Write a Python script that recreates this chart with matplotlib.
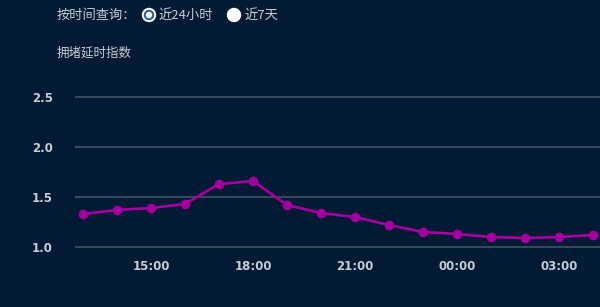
import matplotlib
matplotlib.use('Agg')
import matplotlib.pyplot as plt
from matplotlib.patches import Circle

plt.rcParams['font.family'] = ['Noto Sans CJK SC', 'DejaVu Sans']

# Data
hours = ['13:00', '14:00', '15:00', '16:00', '17:00', '18:00', '19:00', '20:00',
         '21:00', '22:00', '23:00', '00:00', '01:00', '02:00', '03:00', '04:00']
index = [1.33, 1.37, 1.39, 1.43, 1.63, 1.66, 1.42, 1.34,
         1.30, 1.22, 1.15, 1.13, 1.10, 1.09, 1.10, 1.12]
tick_hours = ['15:00', '18:00', '21:00', '00:00', '03:00']
y_ticks = [1.0, 1.5, 2.0, 2.5]

bg = '#021a33'
txt = '#c8ccd2'

fig = plt.figure(figsize=(6, 3.07), dpi=100)
fig.patch.set_facecolor(bg)

ax = fig.add_axes([0.125, 0.1889, 0.875, 0.5016])
ax.set_facecolor(bg)
x = list(range(len(hours)))
ax.plot(x, index, '-o', color='#a3009f', lw=2.0, markersize=6, zorder=3, clip_on=False)
ax.set_xlim(-0.235, 15.206)
ax.set_ylim(0.98, 2.52)
ax.set_yticks(y_ticks)
ax.set_yticklabels(['%.1f' % v for v in y_ticks], family='DejaVu Sans', weight='bold')
ax.set_xticks([hours.index(h) for h in tick_hours])
ax.set_xticklabels(tick_hours, family='DejaVu Sans', weight='bold')
ax.grid(axis='y', color='#36485c', lw=1.5)
ax.grid(axis='x', visible=False)
for s in ax.spines.values():
    s.set_visible(False)
ax.tick_params(axis='both', length=0, colors=txt, labelsize=8.5)
ax.tick_params(axis='y', pad=16)
ax.tick_params(axis='x', pad=8)

# Header
fig.text(57 / 600, 1 - 15 / 307, '按时间查询：', color=txt, fontsize=9.5, va='center', ha='left')
fig.text(158 / 600, 1 - 15 / 307, '近24小时', color=txt, fontsize=9.5, va='center', ha='left')
fig.text(244 / 600, 1 - 15 / 307, '近7天', color=txt, fontsize=9.5, va='center', ha='left')
fig.text(57 / 600, 1 - 53 / 307, '拥堵延时指数', color=txt, fontsize=9, va='center', ha='left')

tr = fig.dpi_scale_trans
fig.patches.append(Circle((1.49, (307 - 15) / 100), 0.065, transform=tr, color='white'))
fig.patches.append(Circle((1.49, (307 - 15) / 100), 0.045, transform=tr, color='#1f5fa8'))
fig.patches.append(Circle((1.49, (307 - 15) / 100), 0.025, transform=tr, color='white'))
fig.patches.append(Circle((2.34, (307 - 15) / 100), 0.065, transform=tr, color='white'))

fig.savefig('out.png', dpi=100, facecolor=bg)
